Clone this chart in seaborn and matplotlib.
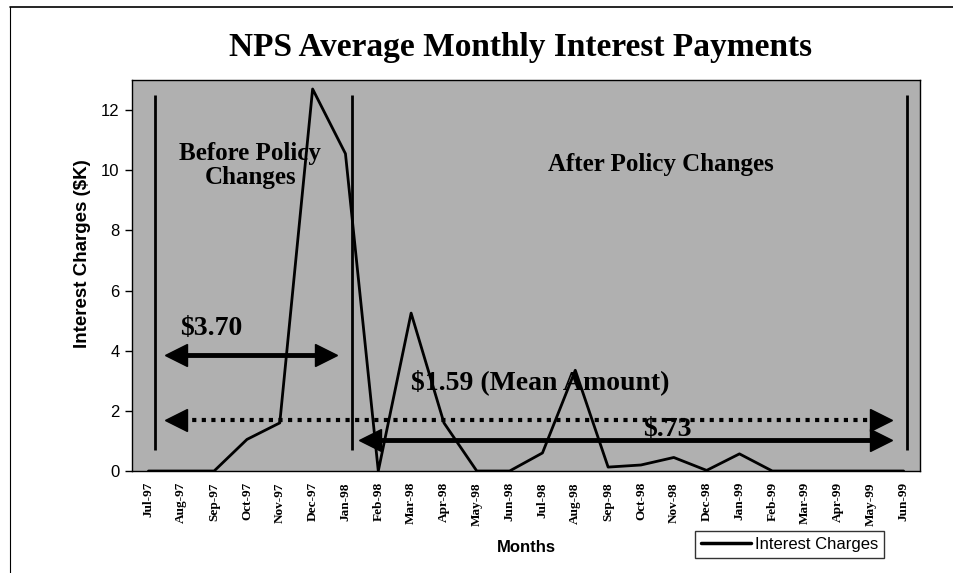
import numpy as np
import pandas as pd
import matplotlib
matplotlib.use("Agg")
import matplotlib.pyplot as plt
import seaborn as sns
from matplotlib.lines import Line2D

months = ["Jul-97", "Aug-97", "Sep-97", "Oct-97", "Nov-97", "Dec-97", "Jan-98", "Feb-98",
          "Mar-98", "Apr-98", "May-98", "Jun-98", "Jul-98", "Aug-98", "Sep-98", "Oct-98",
          "Nov-98", "Dec-98", "Jan-99", "Feb-99", "Mar-99", "Apr-99", "May-99", "Jun-99"]
interest = [0.0, 0.0, 0.0, 1.05, 1.6, 12.7, 10.55, 0.0,
            5.25, 1.6, 0.0, 0.0, 0.6, 3.35, 0.13, 0.2,
            0.45, 0.02, 0.57, 0.0, 0.0, 0.0, 0.0, 0.0]

# annotation values
before_mean = 3.85      # "$3.70" arrow level
overall_mean = 1.68     # "$1.59 (Mean Amount)" level
after_mean = 1.03       # "$.73" arrow level
divider_x = [0.2, 6.2, 23.1]
divider_y = (0.7, 12.5)

sns.set_style("white")
plt.rcParams["font.family"] = ["Liberation Sans", "DejaVu Sans"]
plt.rcParams["text.color"] = "black"
plt.rcParams["axes.labelcolor"] = "black"
plt.rcParams["xtick.color"] = "black"
plt.rcParams["ytick.color"] = "black"

fig = plt.figure(figsize=(9.54, 5.73), dpi=100)
ax = fig.add_axes([0.1384, 0.178, 0.826, 0.6824])
ax.set_facecolor("#b0b0b0")

df = pd.DataFrame({"pos": np.arange(len(months)), "Interest Charges": interest})
sns.lineplot(data=df, x="pos", y="Interest Charges", ax=ax, color="black", lw=2.0,
             legend=False)

# divider lines
ax.vlines(divider_x, divider_y[0], divider_y[1], color="black", lw=2.0)

# $3.70 arrow
ax.hlines(before_mean, 0.75, 5.5, color="black", lw=3.5)
ax.plot([0.85], [before_mean], marker="<", ms=16, color="black", ls="none")
ax.plot([5.4], [before_mean], marker=">", ms=16, color="black", ls="none")

# mean dotted arrow
ax.hlines(overall_mean, 0.75, 22.3, color="black", lw=3.0, linestyles=[(0, (1, 1.3))])
ax.plot([0.85], [overall_mean], marker="<", ms=16, color="black", ls="none")
ax.plot([22.3], [overall_mean], marker=">", ms=16, color="black", ls="none")

# after arrow
ax.hlines(after_mean, 6.65, 22.3, color="black", lw=3.5)
ax.plot([6.75], [after_mean], marker="<", ms=16, color="black", ls="none")
ax.plot([22.3], [after_mean], marker=">", ms=16, color="black", ls="none")

serif = ["Liberation Serif", "DejaVu Serif"]
ax.text(3.1, 10.15, "Before Policy\nChanges", ha="center", va="center", fontsize=18,
        fontweight="bold", family=serif, linespacing=1.05)
ax.text(15.6, 10.2, "After Policy Changes", ha="center", va="center", fontsize=18,
        fontweight="bold", family=serif)
ax.text(0.95, 4.75, "$3.70", ha="left", va="center", fontsize=20, fontweight="bold", family=serif)
ax.text(8.0, 2.95, "$1.59 (Mean Amount)", ha="left", va="center", fontsize=20,
        fontweight="bold", family=serif)
ax.text(15.8, 1.37, "$.73", ha="center", va="center", fontsize=20, fontweight="bold", family=serif)

ax.set_xlim(-0.5, len(months) - 0.5)
ax.set_ylim(0, 13)
ax.set_yticks(np.arange(0, 13, 2))
ax.set_yticklabels([str(v) for v in range(0, 13, 2)], fontsize=12)
ax.set_xticks(np.arange(len(months)))
ax.set_xticklabels(months, rotation=90, fontsize=9.5, family=serif, fontweight="bold")
ax.set_xticks(np.arange(-0.5, len(months), 1), minor=True)
ax.tick_params(axis="x", which="major", length=0, pad=8)
ax.tick_params(axis="x", which="minor", length=4, direction="out", width=1, color="black")
ax.tick_params(axis="y", length=5, direction="out", width=1, color="black", pad=4, left=True)
for s in ax.spines.values():
    s.set_color("black")
    s.set_linewidth(1.0)

ax.set_xlabel("Months", fontsize=12, fontweight="bold", labelpad=10)
ax.set_ylabel("Interest Charges ($K)", fontsize=13.5, fontweight="bold")
ax.yaxis.set_label_coords(-0.052, 0.555)

fig.suptitle("NPS Average Monthly Interest Payments", x=0.546, y=0.945, fontsize=24,
             fontweight="bold", family=serif)

leg = ax.legend(handles=[Line2D([0], [0], color="black", lw=2.5)], labels=["Interest Charges"],
                loc="center", bbox_to_anchor=(0.8276, 0.0497), bbox_transform=fig.transFigure,
                frameon=True, fancybox=False, fontsize=12, handlelength=3.0,
                borderpad=0.35, handletextpad=0.2, borderaxespad=0)
leg.get_frame().set_edgecolor("black")
leg.get_frame().set_linewidth(1.0)

# outer frame lines
fig.add_artist(Line2D([0.0105, 0.0105], [0.0, 0.988], transform=fig.transFigure, color="black", lw=0.8))
fig.add_artist(Line2D([0.0105, 1.0], [0.988, 0.988], transform=fig.transFigure, color="black", lw=1.2))

fig.savefig("out.png", dpi=100)
